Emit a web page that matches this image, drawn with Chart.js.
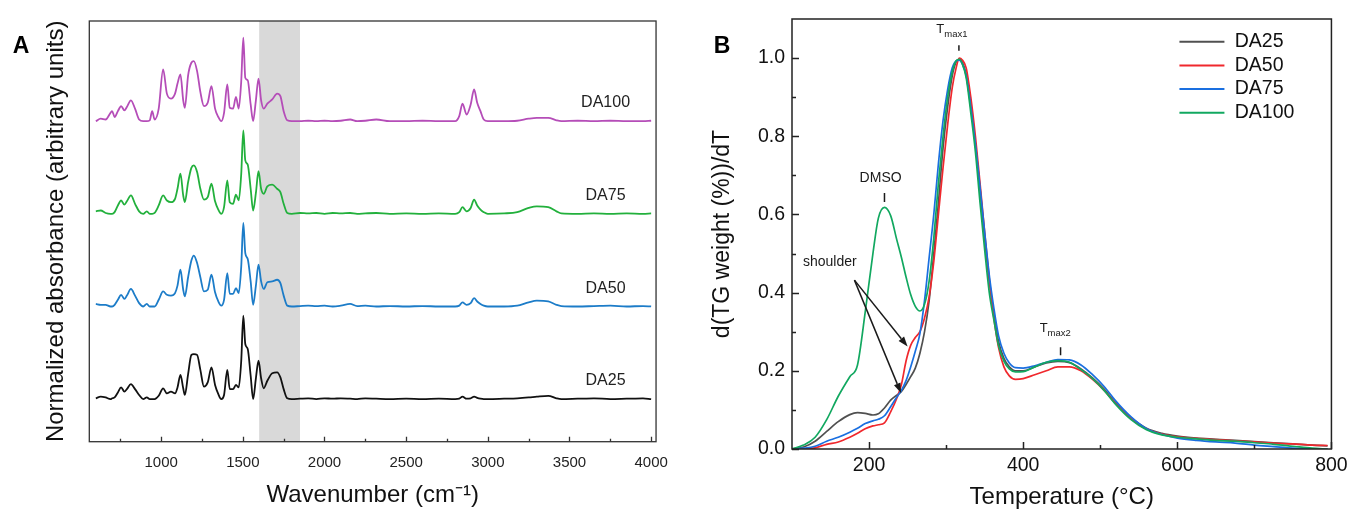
<!DOCTYPE html>
<html>
<head>
<meta charset="utf-8">
<title>FTIR + DTG</title>
<script src="https://cdn.jsdelivr.net/npm/chart.js@4.4.1/dist/chart.umd.min.js"></script>
<style>
  html, body { margin: 0; padding: 0; background: #fff; }
  body { width: 1353px; height: 513px; position: relative; overflow: hidden; }
  .panel { position: absolute; top: 0; }
  #wrapA { left: 0; width: 680px; height: 513px; }
  #wrapB { left: 680px; width: 673px; height: 513px; }
</style>
</head>
<body>
<div class="panel" id="wrapA"><canvas id="chartA" width="680" height="513"></canvas></div>
<div class="panel" id="wrapB"><canvas id="chartB" width="673" height="513"></canvas></div>
<script>
// ==========================
// DATA - panel A (FTIR)
// ==========================
const wavenumbers = [
  600, 630, 660, 690, 700, 715, 735, 755, 775, 790,
  815, 840, 865, 890, 912, 930, 945, 960, 985, 1012,
  1035, 1060, 1085, 1100, 1118, 1135, 1145, 1165, 1185, 1200,
  1220, 1240, 1262, 1285, 1308, 1330, 1350, 1368, 1385, 1405,
  1420, 1440, 1458, 1475, 1490, 1503, 1515, 1530, 1548, 1563,
  1580, 1596, 1612, 1628, 1650, 1680, 1710, 1730, 1750, 1772,
  1800, 1850, 1900, 1950, 2000, 2050, 2100, 2157, 2200, 2250,
  2317, 2400, 2500, 2600, 2700, 2800, 2825, 2845, 2870, 2895,
  2916, 2935, 2955, 2975, 3000, 3100, 3180, 3250, 3300, 3370,
  3420, 3450, 3550, 3650, 3750, 3850, 3950, 4000
];
const absDA25 = [
  0.01, 0.03, 0.02, 0.0, 0.01, 0.02, 0.08, 0.14, 0.09, 0.12,
  0.18, 0.12, 0.05, 0.0, 0.02, 0.0, 0.0, 0.0, 0.04, 0.13,
  0.07, 0.09, 0.07, 0.14, 0.29, 0.13, 0.05, 0.3, 0.53, 0.54,
  0.53, 0.35, 0.15, 0.2, 0.38, 0.17, 0.06, 0.0, 0.05, 0.35,
  0.12, 0.12, 0.17, 0.14, 0.45, 1.0, 0.66, 0.6, 0.28, 0.0,
  0.25, 0.46, 0.25, 0.13, 0.22, 0.31, 0.32, 0.26, 0.12, 0.01,
  0.0, 0.005, 0.01, 0.0, 0.01, 0.005, 0.01, 0.005, 0.0, 0.01,
  0.005, 0.0, 0.005, 0.0, 0.005, 0.0, 0.005, 0.03, 0.005, 0.01,
  0.03, 0.015, 0.005, 0.0, 0.0, 0.005, 0.01, 0.02, 0.03, 0.04,
  0.01, 0.0, 0.005, 0.01, 0.0, 0.005, 0.01, 0.0
];
const absDA50 = [
  0.03, 0.02, 0.02, 0.0, 0.0, 0.02, 0.08, 0.14, 0.09, 0.13,
  0.21, 0.13, 0.04, 0.0, 0.03, 0.0, 0.0, 0.0, 0.08, 0.18,
  0.14, 0.13, 0.16, 0.25, 0.44, 0.2, 0.12, 0.35, 0.55, 0.61,
  0.52, 0.35, 0.18, 0.2, 0.38, 0.17, 0.06, 0.01, 0.08, 0.4,
  0.15, 0.15, 0.22, 0.16, 0.47, 1.0, 0.64, 0.57, 0.3, 0.02,
  0.25, 0.5, 0.3, 0.21, 0.29, 0.3, 0.32, 0.28, 0.13, 0.01,
  0.0, 0.005, 0.01, 0.005, 0.01, 0.0, 0.01, 0.03, 0.005, 0.01,
  0.0, 0.005, 0.0, 0.005, 0.0, 0.0, 0.01, 0.05, 0.02, 0.04,
  0.1, 0.06, 0.03, 0.01, 0.0, 0.0, 0.01, 0.05, 0.07, 0.06,
  0.02, 0.005, 0.0, 0.005, 0.01, 0.0, 0.005, 0.0
];
const absDA75 = [
  0.03, 0.04, 0.01, 0.0, 0.0, 0.02, 0.1, 0.16, 0.11, 0.15,
  0.22, 0.12, 0.03, 0.0, 0.03, 0.0, 0.0, 0.01, 0.1, 0.22,
  0.16, 0.14, 0.18, 0.3, 0.48, 0.22, 0.14, 0.38, 0.55, 0.58,
  0.5, 0.3, 0.17, 0.2, 0.36, 0.15, 0.05, 0.0, 0.08, 0.4,
  0.14, 0.12, 0.23, 0.16, 0.47, 1.0, 0.64, 0.59, 0.3, 0.04,
  0.25, 0.51, 0.3, 0.24, 0.33, 0.35, 0.3, 0.26, 0.12, 0.01,
  0.0, 0.01, 0.005, 0.01, 0.0, 0.01, 0.005, 0.01, 0.0, 0.005,
  0.01, 0.0, 0.005, 0.0, 0.005, 0.0, 0.02, 0.08, 0.03, 0.07,
  0.17, 0.1, 0.05, 0.02, 0.0, 0.005, 0.02, 0.07, 0.09, 0.08,
  0.03, 0.005, 0.0, 0.005, 0.0, 0.005, 0.0, 0.005
];
const absDA100 = [
  0.0, 0.03, 0.02, 0.1, 0.12, 0.05, 0.12, 0.18, 0.13, 0.17,
  0.25, 0.15, 0.02, 0.0, 0.0, 0.01, 0.12, 0.02, 0.15, 0.62,
  0.33, 0.27, 0.33, 0.45, 0.56, 0.25, 0.16, 0.55, 0.7, 0.72,
  0.6, 0.35, 0.18, 0.22, 0.42, 0.15, 0.05, 0.0, 0.1, 0.44,
  0.16, 0.15, 0.29, 0.15, 0.47, 1.0, 0.52, 0.49, 0.2, 0.0,
  0.25, 0.51, 0.25, 0.15, 0.21, 0.26, 0.33, 0.3, 0.12, 0.01,
  0.0, 0.0, 0.005, 0.0, 0.005, 0.0, 0.005, 0.02, 0.0, 0.005,
  0.02, 0.0, 0.0, 0.005, 0.0, 0.0, 0.06, 0.21, 0.08, 0.2,
  0.38, 0.22, 0.12, 0.02, 0.0, 0.0, 0.005, 0.03, 0.04, 0.04,
  0.01, 0.0, 0.005, 0.0, 0.005, 0.0, 0.0, 0.005
];
const ftirNames   = ['DA25', 'DA50', 'DA75', 'DA100'];
const ftirSeries  = [absDA25, absDA50, absDA75, absDA100];
const ftirOffsets = [0, 1.11, 2.22, 3.33];        // vertical stacking (arbitrary units)
const ftirColors  = ['#111111', '#1c7cc8', '#22b03c', '#b54db8'];
const wnMajorTicks = [1000, 1500, 2000, 2500, 3000, 3500, 4000];
const wnMinorTicks = [750, 1250, 1750, 2250, 2750, 3250, 3750];
const bandFrom = 1600, bandTo = 1850;              // grey highlighted region

// ==========================
// DATA - panel B (DTG)
// ==========================
const temperatures = [
  100, 115, 130, 145, 160, 175, 185, 195, 205, 212,
  220, 228, 236, 242, 248, 254, 260, 266, 272, 278,
  284, 290, 296, 302, 308, 313, 317, 321, 326, 332,
  338, 344, 350, 356, 362, 368, 375, 382, 390, 400,
  415, 430, 445, 460, 475, 490, 505, 520, 540, 560,
  580, 600, 625, 650, 675, 700, 725, 750, 775, 795
];
const dtgDA25 = [
  0.0, 0.005, 0.02, 0.045, 0.07, 0.088, 0.093, 0.091, 0.087, 0.09,
  0.105, 0.125, 0.138, 0.147, 0.165, 0.185, 0.207, 0.245, 0.30, 0.38,
  0.5, 0.63, 0.77, 0.875, 0.955, 0.99, 0.997, 0.99, 0.958, 0.88,
  0.78, 0.665, 0.54, 0.43, 0.345, 0.275, 0.232, 0.21, 0.2, 0.2,
  0.21, 0.22, 0.224, 0.221, 0.205, 0.182, 0.153, 0.118, 0.08, 0.053,
  0.04, 0.033, 0.028, 0.025, 0.022, 0.019, 0.016, 0.013, 0.01, 0.008
];
const dtgDA50 = [
  0.0, 0.0, 0.003, 0.012, 0.018, 0.03, 0.04, 0.052, 0.059, 0.062,
  0.067, 0.095, 0.13, 0.165, 0.225, 0.265, 0.285, 0.3, 0.335, 0.39,
  0.48, 0.6, 0.72, 0.83, 0.925, 0.975, 1.0, 0.995, 0.975, 0.9,
  0.8, 0.68, 0.555, 0.435, 0.335, 0.26, 0.21, 0.187, 0.178, 0.18,
  0.19, 0.2, 0.21, 0.21, 0.2, 0.178, 0.15, 0.116, 0.078, 0.051,
  0.038, 0.031, 0.027, 0.024, 0.021, 0.018, 0.015, 0.013, 0.01, 0.009
];
const dtgDA75 = [
  0.0, 0.002, 0.007, 0.02, 0.03, 0.043, 0.053, 0.065, 0.072, 0.076,
  0.085, 0.108, 0.133, 0.15, 0.175, 0.21, 0.25, 0.295, 0.38, 0.49,
  0.6, 0.73, 0.84, 0.92, 0.975, 0.993, 0.995, 0.985, 0.955, 0.875,
  0.78, 0.67, 0.555, 0.445, 0.36, 0.29, 0.245, 0.22, 0.208, 0.207,
  0.213, 0.222, 0.229, 0.228, 0.215, 0.19, 0.16, 0.123, 0.082, 0.052,
  0.037, 0.028, 0.022, 0.018, 0.015, 0.01, 0.006, 0.002, 0.0, 0.0
];
const dtgDA100 = [
  0.0, 0.01, 0.03, 0.075, 0.135, 0.185, 0.215, 0.35, 0.5, 0.59,
  0.618, 0.597, 0.535, 0.49, 0.44, 0.395, 0.365, 0.353, 0.37, 0.43,
  0.54, 0.68, 0.8, 0.9, 0.965, 0.993, 0.997, 0.985, 0.95, 0.86,
  0.76, 0.63, 0.51, 0.40, 0.33, 0.265, 0.225, 0.205, 0.197, 0.198,
  0.21, 0.222, 0.226, 0.222, 0.203, 0.18, 0.15, 0.114, 0.075, 0.049,
  0.036, 0.03, 0.026, 0.022, 0.02, 0.016, 0.012, 0.007, 0.002, 0.0
];
const dtgNames  = ['DA25', 'DA50', 'DA75', 'DA100'];
const dtgSeries = [dtgDA25, dtgDA50, dtgDA75, dtgDA100];
const dtgColors = ['#505050', '#f0282d', '#1a6fe0', '#12a860'];
const tMajorTicks = [200, 400, 600, 800];
const tMinorTicks = [300, 500, 700];
const dMajorTicks = [0, 0.2, 0.4, 0.6, 0.8, 1.0];
const dMinorTicks = [0.1, 0.3, 0.5, 0.7, 0.9];

// ==========================
// HELPERS
// ==========================
const FONT = "'Liberation Sans', Arial, sans-serif";
Chart.defaults.font.family = FONT;
Chart.defaults.color = '#111';

function frameAndTicks(o) {
    return {
        id: 'frame' + o.key,
        afterDatasetsDraw(chart) {
            const { ctx, chartArea: a, scales } = chart;
            ctx.save();
            ctx.strokeStyle = o.color;
            ctx.lineWidth = o.width;
            ctx.strokeRect(a.left, a.top, a.right - a.left, a.bottom - a.top);
            ctx.beginPath();
            const xt = (v, len) => {
                const px = Math.round(scales.x.getPixelForValue(v)) + 0.5;
                ctx.moveTo(px, a.bottom); ctx.lineTo(px, a.bottom - len);
            };
            const yt = (v, len) => {
                const py = Math.round(scales.y.getPixelForValue(v)) + 0.5;
                ctx.moveTo(a.left, py); ctx.lineTo(a.left + len, py);
            };
            o.xMajor.forEach(v => xt(v, o.major));
            o.xMinor.forEach(v => xt(v, o.minor));
            (o.yMajor || []).forEach(v => yt(v, o.major));
            (o.yMinor || []).forEach(v => yt(v, o.minor));
            ctx.stroke();
            ctx.restore();
        }
    };
}

function panelLetter(letter, x, y) {
    return {
        id: 'letter' + letter,
        afterDraw(chart) {
            const ctx = chart.ctx;
            ctx.save();
            ctx.font = 'bold 23px ' + FONT;
            ctx.fillStyle = '#000';
            ctx.textAlign = 'center';
            ctx.textBaseline = 'middle';
            ctx.fillText(letter, x, y);
            ctx.restore();
        }
    };
}

// ==========================
// PANEL A
// ==========================
const ftirDecor = {
    id: 'ftirDecor',
    beforeDatasetsDraw(chart) {
        const { ctx, chartArea: a, scales: { x } } = chart;
        const x1 = x.getPixelForValue(bandFrom), x2 = x.getPixelForValue(bandTo);
        ctx.save();
        ctx.fillStyle = '#d9d9d9';
        ctx.fillRect(x1, a.top, x2 - x1, a.bottom - a.top);
        ctx.restore();
    },
    afterDatasetsDraw(chart) {
        const { ctx, scales: { x, y } } = chart;
        ctx.save();
        ctx.font = '16px ' + FONT;
        ctx.fillStyle = '#222';
        ctx.textAlign = 'center';
        ctx.textBaseline = 'middle';
        ftirNames.forEach((n, i) => {
            ctx.fillText(n, x.getPixelForValue(3721), y.getPixelForValue(ftirOffsets[i] + 0.22));
        });
        ctx.restore();
    }
};

new Chart(document.getElementById('chartA'), {
    type: 'line',
    data: {
        datasets: ftirSeries.map((vals, i) => ({
            label: ftirNames[i],
            data: wavenumbers.map((w, k) => ({ x: w, y: ftirOffsets[i] + vals[k] })),
            borderColor: ftirColors[i],
            borderWidth: 1.8,
            pointRadius: 0,
            cubicInterpolationMode: 'monotone'
        }))
    },
    options: {
        responsive: false,
        animation: false,
        layout: { padding: { left: 0, right: 20, top: 21, bottom: 0 } },
        plugins: { legend: { display: false }, tooltip: { enabled: false } },
        scales: {
            x: {
                type: 'linear', min: 560, max: 4030,
                afterBuildTicks: s => { s.ticks = wnMajorTicks.map(v => ({ value: v })); },
                afterFit: s => { s.height = 71.3; },
                grid: { display: false, drawTicks: false },
                border: { display: false },
                ticks: { autoSkip: false, maxRotation: 0, padding: 12, font: { size: 15 }, color: '#222',
                         callback: v => String(v) },
                title: { display: true, text: 'Wavenumber (cm\u207B\u00B9)', font: { size: 24 }, color: '#111',
                         padding: { top: 0, bottom: 3 } }
            },
            y: {
                type: 'linear', min: -0.51, max: 4.53,
                afterFit: s => { s.width = 89.3; },
                grid: { display: false, drawTicks: false },
                border: { display: false },
                ticks: { display: false },
                title: { display: true, text: 'Normalized absorbance (arbitrary units)', font: { size: 24 },
                         color: '#111', padding: { top: 42, bottom: 0 } }
            }
        }
    },
    plugins: [ftirDecor,
              frameAndTicks({ key: 'A', color: '#333', width: 1.3, major: 5, minor: 3,
                              xMajor: wnMajorTicks, xMinor: wnMinorTicks }),
              panelLetter('A', 21, 47)]
});

// ==========================
// PANEL B
// ==========================
function subLabel(ctx, main, sub, cx, baseY) {
    ctx.font = '13px ' + FONT;
    const w1 = ctx.measureText(main).width;
    ctx.font = '9.5px ' + FONT;
    const w2 = ctx.measureText(sub).width;
    const x0 = cx - (w1 + w2) / 2;
    ctx.textAlign = 'left';
    ctx.textBaseline = 'alphabetic';
    ctx.font = '13px ' + FONT;
    ctx.fillText(main, x0, baseY);
    ctx.font = '9.5px ' + FONT;
    ctx.fillText(sub, x0 + w1, baseY + 3.4);
}

function arrow(ctx, x1, y1, x2, y2) {
    const ang = Math.atan2(y2 - y1, x2 - x1);
    const head = 10, half = 3.5;
    const bx = x2 - head * Math.cos(ang), by = y2 - head * Math.sin(ang);
    ctx.beginPath();
    ctx.moveTo(x1, y1);
    ctx.lineTo(bx, by);
    ctx.stroke();
    ctx.beginPath();
    ctx.moveTo(x2, y2);
    ctx.lineTo(bx + half * Math.sin(ang), by - half * Math.cos(ang));
    ctx.lineTo(bx - half * Math.sin(ang), by + half * Math.cos(ang));
    ctx.closePath();
    ctx.fill();
}

const dtgDecor = {
    id: 'dtgDecor',
    afterDatasetsDraw(chart) {
        const { ctx, chartArea: a, scales: { x, y } } = chart;
        const px = v => x.getPixelForValue(v), py = v => y.getPixelForValue(v);
        ctx.save();
        ctx.fillStyle = '#1a1a1a';
        ctx.strokeStyle = '#1a1a1a';

        // peak marks
        ctx.lineWidth = 1.5;
        ctx.beginPath();
        [[316.6, 1.019, 1.033], [220, 0.632, 0.655], [448.5, 0.24, 0.26]].forEach(([t, v1, v2]) => {
            ctx.moveTo(px(t), py(v1)); ctx.lineTo(px(t), py(v2));
        });
        ctx.stroke();

        subLabel(ctx, 'T', 'max1', px(307.5), py(1.063));
        subLabel(ctx, 'T', 'max2', px(441.6), py(0.299));

        ctx.font = '14px ' + FONT;
        ctx.textAlign = 'center';
        ctx.textBaseline = 'middle';
        ctx.fillText('DMSO', px(215), py(0.693));
        ctx.fillText('shoulder', px(149), py(0.478));

        ctx.lineWidth = 1.5;
        arrow(ctx, px(181), py(0.432), px(250), py(0.262));
        arrow(ctx, px(181), py(0.432), px(241.5), py(0.143));

        // legend
        ctx.font = '19.5px ' + FONT;
        ctx.textAlign = 'left';
        dtgNames.forEach((n, i) => {
            const ly = a.top + 22.7 + i * 23.7;
            ctx.strokeStyle = dtgColors[i];
            ctx.lineWidth = 2;
            ctx.beginPath();
            ctx.moveTo(a.right - 152, ly); ctx.lineTo(a.right - 107, ly);
            ctx.stroke();
            ctx.fillStyle = '#111';
            ctx.fillText(n, a.right - 96.7, ly);
        });
        ctx.restore();
    }
};

new Chart(document.getElementById('chartB'), {
    type: 'line',
    data: {
        datasets: dtgSeries.map((vals, i) => ({
            label: dtgNames[i],
            data: temperatures.map((t, k) => ({ x: t, y: vals[k] })),
            borderColor: dtgColors[i],
            borderWidth: 1.7,
            pointRadius: 0,
            cubicInterpolationMode: 'monotone',
            order: 4 - i
        }))
    },
    options: {
        responsive: false,
        animation: false,
        layout: { padding: { left: 0, right: 17, top: 19, bottom: 0 } },
        plugins: { legend: { display: false }, tooltip: { enabled: false } },
        scales: {
            x: {
                type: 'linear', min: 100, max: 800,
                afterBuildTicks: s => { s.ticks = tMajorTicks.map(v => ({ value: v })); },
                afterFit: s => { s.height = 64; },
                grid: { display: false, drawTicks: false },
                border: { display: false },
                ticks: { autoSkip: false, maxRotation: 0, padding: 5.3, font: { size: 19.5 }, color: '#111',
                         callback: v => String(v) },
                title: { display: true, text: 'Temperature (\u00B0C)', font: { size: 24 }, color: '#111',
                         padding: { top: 0, bottom: 1 } }
            },
            y: {
                type: 'linear', min: 0, max: 1.1,
                afterBuildTicks: s => { s.ticks = dMajorTicks.map(v => ({ value: v })); },
                afterFit: s => { s.width = 112; },
                grid: { display: false, drawTicks: false },
                border: { display: false },
                ticks: { autoSkip: false, padding: 7, font: { size: 19.5 }, color: '#111',
                         callback: v => v.toFixed(1) },
                title: { display: true, text: 'd(TG weight (%))/dT', font: { size: 23 }, color: '#111',
                         padding: { top: 29, bottom: 0 } }
            }
        }
    },
    plugins: [dtgDecor,
              frameAndTicks({ key: 'B', color: '#222', width: 1.5, major: 7, minor: 4,
                              xMajor: tMajorTicks, xMinor: tMinorTicks, yMajor: dMajorTicks, yMinor: dMinorTicks }),
              panelLetter('B', 42, 47)]
});
</script>
</body>
</html>
